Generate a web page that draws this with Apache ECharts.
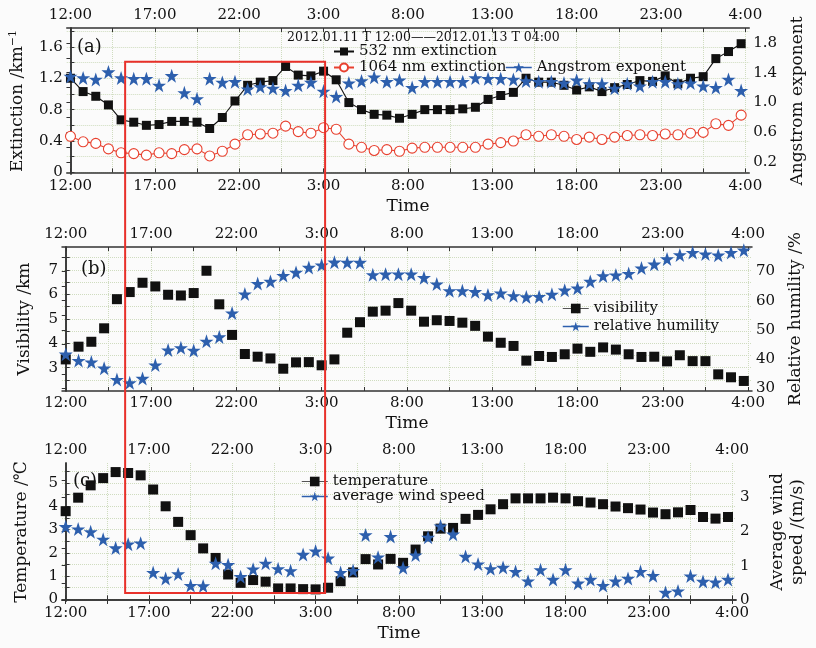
<!DOCTYPE html>
<html>
<head>
<meta charset="utf-8">
<script src="https://cdn.jsdelivr.net/npm/echarts@6/dist/echarts.min.js"></script>
<style>
  html, body { margin: 0; padding: 0; background: #fbfbfb; }
  #chart { width: 816px; height: 648px; }
</style>
</head>
<body>
<div id="chart"></div>
<script>
// sample times, hours after 2012.01.11 12:00 (every 45 min)
const hours = [0, 0.75, 1.5, 2.25, 3, 3.75, 4.5, 5.25, 6, 6.75, 7.5, 8.25, 9, 9.75, 10.5, 11.25, 12, 12.75,
  13.5, 14.25, 15, 15.75, 16.5, 17.25, 18, 18.75, 19.5, 20.25, 21, 21.75, 22.5, 23.25, 24, 24.75, 25.5, 26.25,
  27, 27.75, 28.5, 29.25, 30, 30.75, 31.5, 32.25, 33, 33.75, 34.5, 35.25, 36, 36.75, 37.5, 38.25, 39, 39.75];

const hourTicks = [0, 2.5, 5, 7.5, 10, 12.5, 15, 17.5, 20, 22.5, 25, 27.5, 30, 32.5, 35, 37.5, 40];
const hourLabels = [0, 5, 10, 15, 20, 25, 30, 35, 40];

// (a)
const ext532 = [1.20, 1.03, 0.97, 0.86, 0.67, 0.64, 0.60, 0.61, 0.65, 0.65, 0.64, 0.56, 0.70, 0.91, 1.11, 1.15, 1.17, 1.35,
  1.24, 1.23, 1.29, 1.18, 0.89, 0.80, 0.74, 0.73, 0.69, 0.74, 0.80, 0.80, 0.80, 0.81, 0.83, 0.93, 0.98, 1.02,
  1.20, 1.15, 1.15, 1.11, 1.05, 1.09, 1.03, 1.08, 1.12, 1.17, 1.16, 1.23, 1.13, 1.20, 1.22, 1.45, 1.54, 1.64];
const ext1064 = [0.46, 0.39, 0.37, 0.30, 0.25, 0.24, 0.22, 0.25, 0.24, 0.29, 0.30, 0.21, 0.27, 0.36, 0.48, 0.49, 0.50, 0.59,
  0.52, 0.50, 0.57, 0.55, 0.36, 0.32, 0.28, 0.29, 0.27, 0.31, 0.32, 0.32, 0.32, 0.32, 0.32, 0.36, 0.38, 0.40,
  0.48, 0.46, 0.48, 0.46, 0.42, 0.45, 0.42, 0.45, 0.47, 0.48, 0.47, 0.49, 0.48, 0.50, 0.51, 0.62, 0.60, 0.73];
const angstrom = [1.35, 1.33, 1.31, 1.41, 1.33, 1.32, 1.32, 1.23, 1.36, 1.13, 1.05, 1.32, 1.27, 1.28, 1.18, 1.21, 1.19, 1.16,
  1.23, 1.27, 1.15, 1.08, 1.26, 1.29, 1.34, 1.28, 1.30, 1.20, 1.28, 1.28, 1.28, 1.28, 1.33, 1.32, 1.32, 1.31,
  1.29, 1.28, 1.28, 1.26, 1.30, 1.25, 1.25, 1.19, 1.25, 1.22, 1.28, 1.28, 1.25, 1.26, 1.22, 1.20, 1.31, 1.16];

// (b)
const visibility = [3.34, 3.86, 4.06, 4.61, 5.80, 6.09, 6.47, 6.32, 5.98, 5.95, 6.05, 6.96, 5.59, 4.34, 3.56, 3.45, 3.38, 2.96,
  3.22, 3.23, 3.10, 3.34, 4.43, 4.86, 5.29, 5.33, 5.64, 5.33, 4.88, 4.94, 4.91, 4.84, 4.71, 4.27, 4.02, 3.89,
  3.29, 3.48, 3.44, 3.55, 3.78, 3.65, 3.83, 3.74, 3.55, 3.44, 3.45, 3.26, 3.51, 3.27, 3.27, 2.73, 2.61, 2.46];
const humidity = [41.7, 39.5, 39.0, 36.9, 33.0, 31.9, 33.4, 38.0, 43.1, 43.9, 43.0, 46.1, 47.6, 55.8, 62.3, 65.9, 66.6, 68.6,
  69.7, 71.4, 72.2, 73.2, 73.1, 73.1, 68.9, 69.1, 69.1, 69.1, 67.9, 65.7, 63.4, 63.4, 63.1, 62.0, 62.6, 61.7,
  61.3, 61.4, 62.2, 63.6, 64.3, 66.6, 68.5, 68.8, 69.3, 71.2, 72.5, 74.3, 75.7, 76.5, 76.0, 75.6, 76.5, 77.3];

// (c)
const temperature = [3.79, 4.37, 4.90, 5.21, 5.47, 5.43, 5.33, 4.72, 4.00, 3.33, 2.76, 2.19, 1.78, 1.07, 0.71, 0.83, 0.76, 0.47,
  0.47, 0.44, 0.43, 0.50, 0.78, 1.16, 1.73, 1.50, 1.74, 1.57, 2.14, 2.71, 3.04, 3.07, 3.46, 3.63, 3.87, 4.09,
  4.34, 4.34, 4.34, 4.37, 4.34, 4.22, 4.16, 4.09, 3.99, 3.92, 3.86, 3.73, 3.66, 3.74, 3.84, 3.54, 3.47, 3.54];
const windSpeed = [2.14, 2.07, 1.99, 1.77, 1.52, 1.63, 1.66, 0.80, 0.63, 0.76, 0.42, 0.41, 1.07, 1.03, 0.68, 0.90, 1.07, 0.91,
  0.85, 1.33, 1.43, 1.22, 0.80, 0.86, 1.90, 1.25, 1.85, 0.94, 1.31, 1.83, 2.16, 1.92, 1.27, 1.05, 0.91, 0.95,
  0.83, 0.55, 0.88, 0.60, 0.88, 0.49, 0.60, 0.42, 0.55, 0.63, 0.83, 0.71, 0.22, 0.26, 0.70, 0.54, 0.52, 0.60];

// highlighted period (hours, and values on panel a / panel c left axes)
const boxHours = [3.24, 15.57];
const boxTopExt = 1.41;
const boxBottomTemp = 0.27;

const FONT = 'DejaVu Serif';
const INK = '#111';
const BLUE = '#2d5fad';
const RED = '#e8412f';
const STAR = 'path://M50,0 L61.8,35.1 L98.1,35.1 L68.8,56.7 L79.4,91.2 L50,70 L20.6,91.2 L31.2,56.7 L1.9,35.1 L38.2,35.1 Z';

const pairs = vals => hours.map((h, i) => [h, vals[i]]);
const txt = (size) => ({ fontFamily: FONT, fontSize: size, color: INK });

function xAxes(grid) {
  const base = {
    type: 'value', gridIndex: grid, min: -0.22, max: 40.23,
    axisLine: { show: true, lineStyle: { color: '#333', width: 1.5 } },
    axisTick: { show: true, inside: true, length: 4, customValues: hourTicks, lineStyle: { color: '#333' } },
    axisLabel: { customValues: hourLabels, formatter: v => ((12 + v) % 24) + ':00', margin: 5, ...txt(15) }
  };
  return [
    { ...base, position: 'bottom', name: 'Time', nameLocation: 'middle', nameGap: 24, nameTextStyle: txt(17),
      splitLine: { show: true, lineStyle: { type: 'dotted', color: '#cfdcbf' } } },
    { ...base, position: 'top', splitLine: { show: false } }
  ];
}

function yAxis(grid, pos, min, max, ticks, labels, fmt, name, gap, split) {
  return {
    type: 'value', gridIndex: grid, position: pos, min: min, max: max,
    name: name, nameLocation: 'middle', nameGap: gap, nameRotate: 90,
    nameTextStyle: { ...txt(17), lineHeight: 20,
      rich: { t: { fontFamily: FONT, fontSize: 17, color: INK }, s: { fontFamily: FONT, fontSize: 11, color: INK, verticalAlign: 'top' } } },
    axisLine: { show: true, lineStyle: { color: '#333', width: 1.5 } },
    axisTick: { show: true, inside: true, length: 4, customValues: ticks, lineStyle: { color: '#333' } },
    axisLabel: { customValues: labels, formatter: fmt, margin: 4, ...txt(15) },
    splitLine: { show: split, lineStyle: { type: 'dotted', color: '#cfdcbf' } }
  };
}

const f1 = v => (v === 0 ? '0' : v.toFixed(1));
const f0 = v => String(Math.round(v));

const chart = echarts.init(document.getElementById('chart'));

const option = {
  animation: false,
  backgroundColor: '#fbfbfb',
  grid: [
    { left: 62, top: 28, width: 690, height: 146 },
    { left: 62, top: 247, width: 690, height: 144 },
    { left: 62, top: 463, width: 690, height: 138 }
  ],
  title: [
    { text: '(a)', left: 72, top: 33, textStyle: { ...txt(18), fontWeight: 'normal' } },
    { text: '(b)', left: 76, top: 255, textStyle: { ...txt(18), fontWeight: 'normal' } },
    { text: '(c)', left: 68, top: 467, textStyle: { ...txt(18), fontWeight: 'normal' } },
    { text: '2012.01.11 T 12:00——2012.01.13 T 04:00', left: 282, top: 26, textStyle: { ...txt(12.5), fontWeight: 'normal' } }
  ],
  legend: [
    { data: ['532 nm extinction'], left: 328, top: 39, itemWidth: 20, itemHeight: 10, textStyle: txt(15) },
    { data: ['1064 nm extinction'], left: 328, top: 55, itemWidth: 20, itemHeight: 10, textStyle: txt(15) },
    { data: [{ name: 'Angstrom exponent', lineStyle: { color: BLUE, width: 1.5, opacity: 1 } }],
      left: 500, top: 55, itemWidth: 26, itemHeight: 13, textStyle: txt(15) },
    { data: [{ name: 'visibility', lineStyle: { color: '#555', width: 1, opacity: 1 } },
             { name: 'relative humility', lineStyle: { color: BLUE, width: 1.5, opacity: 1 } }],
      orient: 'vertical', left: 557, top: 296, itemGap: 3, itemWidth: 26, itemHeight: 12, textStyle: txt(15) },
    { data: [{ name: 'temperature', lineStyle: { color: '#555', width: 1, opacity: 1 } },
             { name: 'average wind speed', lineStyle: { color: BLUE, width: 1.5, opacity: 1 } }],
      orient: 'vertical', left: 296, top: 469, itemGap: 0, itemWidth: 26, itemHeight: 12, textStyle: txt(15) }
  ],
  xAxis: [...xAxes(0), ...xAxes(1), ...xAxes(2)],
  yAxis: [
    yAxis(0, 'left', -0.02, 1.84, [0, 0.2, 0.4, 0.6, 0.8, 1.0, 1.2, 1.4, 1.6, 1.8], [0, 0.4, 0.8, 1.2, 1.6], f1,
      '{t|Extinction /km}{s|−1}', 35, true),
    yAxis(0, 'right', 0.04, 2.0, [0.2, 0.4, 0.6, 0.8, 1.0, 1.2, 1.4, 1.6, 1.8], [0.2, 0.6, 1.0, 1.4, 1.8], f1,
      'Angstrom exponent', 33, false),
    yAxis(1, 'left', 2.05, 7.93, [2.5, 3, 3.5, 4, 4.5, 5, 5.5, 6, 6.5, 7, 7.5], [3, 4, 5, 6, 7], f0,
      'Visibility /km', 27, true),
    yAxis(1, 'right', 29.1, 78.4, [30, 35, 40, 45, 50, 55, 60, 65, 70, 75], [30, 40, 50, 60, 70], f0,
      'Relative humility /%', 32, false),
    yAxis(2, 'left', -0.07, 5.86, [0, 0.5, 1, 1.5, 2, 2.5, 3, 3.5, 4, 4.5, 5, 5.5], [0, 1, 2, 3, 4, 5], f0,
      'Temperature /℃', 30, true),
    yAxis(2, 'right', -0.03, 4.0, [0, 0.5, 1, 1.5, 2, 2.5, 3, 3.5], [0, 1, 2, 3], f0,
      'Average wind\nspeed /(m/s)', 32, false)
  ],
  series: [
    { name: '532 nm extinction', type: 'line', xAxisIndex: 0, yAxisIndex: 0, data: pairs(ext532),
      symbol: 'rect', symbolSize: 9, itemStyle: { color: INK }, lineStyle: { color: INK, width: 1.1 }, z: 4 },
    { name: '1064 nm extinction', type: 'line', xAxisIndex: 0, yAxisIndex: 0, data: pairs(ext1064),
      symbol: 'circle', symbolSize: 10, itemStyle: { color: '#fff', borderColor: RED, borderWidth: 1.1 },
      lineStyle: { color: RED, width: 1.1 }, z: 3 },
    { name: 'Angstrom exponent', type: 'line', xAxisIndex: 0, yAxisIndex: 1, data: pairs(angstrom),
      symbol: STAR, symbolSize: 14, itemStyle: { color: BLUE }, lineStyle: { opacity: 0 }, z: 5 },

    { name: 'visibility', type: 'line', xAxisIndex: 2, yAxisIndex: 2, data: pairs(visibility),
      symbol: 'rect', symbolSize: 10, itemStyle: { color: INK }, lineStyle: { opacity: 0 } },
    { name: 'relative humility', type: 'line', xAxisIndex: 2, yAxisIndex: 3, data: pairs(humidity),
      symbol: STAR, symbolSize: 14, itemStyle: { color: BLUE }, lineStyle: { opacity: 0 } },

    { name: 'temperature', type: 'line', xAxisIndex: 4, yAxisIndex: 4, data: pairs(temperature),
      symbol: 'rect', symbolSize: 10, itemStyle: { color: INK }, lineStyle: { opacity: 0 } },
    { name: 'average wind speed', type: 'line', xAxisIndex: 4, yAxisIndex: 5, data: pairs(windSpeed),
      symbol: STAR, symbolSize: 14, itemStyle: { color: BLUE }, lineStyle: { opacity: 0 } }
  ]
};

chart.setOption(option);

// red frame around the highlighted period, placed through the axes
const p1 = chart.convertToPixel({ xAxisIndex: 0, yAxisIndex: 0 }, [boxHours[0], boxTopExt]);
const p2 = chart.convertToPixel({ xAxisIndex: 4, yAxisIndex: 4 }, [boxHours[1], boxBottomTemp]);
chart.setOption({
  graphic: [{
    type: 'rect', z: 100,
    shape: { x: p1[0], y: p1[1], width: p2[0] - p1[0], height: p2[1] - p1[1] },
    style: { fill: 'none', stroke: '#e8302a', lineWidth: 2 }
  }]
});
</script>
</body>
</html>
